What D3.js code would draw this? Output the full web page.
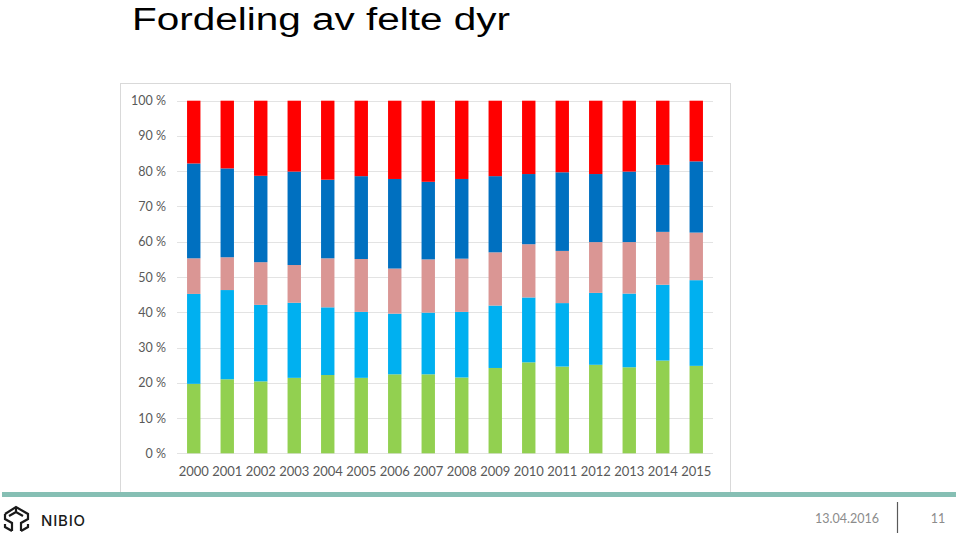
<!DOCTYPE html>
<html>
<head>
<meta charset="utf-8">
<script src="https://cdn.jsdelivr.net/npm/d3@7"></script>
<style>
  html, body { margin: 0; padding: 0; background: #fff; }
  svg { display: block; }
</style>
</head>
<body>
<svg id="chart" width="960" height="536"></svg>
<script>
const years = ["2000","2001","2002","2003","2004","2005","2006","2007","2008","2009","2010","2011","2012","2013","2014","2015"];
const seriesNames = ["s1","s2","s3","s4","s5"];
const s1 = [19.7,21.0,20.4,21.4,22.2,21.4,22.4,22.4,21.5,24.2,25.8,24.6,25.1,24.4,26.3,24.8];
const s2 = [25.5,25.3,21.7,21.3,19.2,18.7,17.2,17.5,18.6,17.7,18.4,18.0,20.4,20.9,21.5,24.3];
const s3 = [10.1,9.3,12.1,10.7,13.9,15.0,12.8,15.1,15.1,15.1,15.1,14.8,14.4,14.6,15.0,13.5];
const s4 = [26.9,25.2,24.5,26.5,22.3,23.5,25.4,22.0,22.6,21.6,19.9,22.3,19.3,20.0,19.0,20.2];
const s5 = [17.8,19.2,21.3,20.1,22.4,21.4,22.2,23.0,22.2,21.4,20.8,20.3,20.8,20.1,18.2,17.2];
const yTicks = [0,0.1,0.2,0.3,0.4,0.5,0.6,0.7,0.8,0.9,1.0];
const title = "Fordeling av felte dyr";
const footerDate = "13.04.2016";
const pageNo = "11";

const colors = ["#92D050","#00B0F0","#DA9694","#0070C0","#FF0000"];
const allSeries = [s1,s2,s3,s4,s5];

const table = years.map((y,i) => {
  const row = {year: y};
  const tot = allSeries.reduce((a,s)=>a+s[i],0);
  seriesNames.forEach((n,k)=> row[n] = allSeries[k][i]/tot);
  return row;
});

const svg = d3.select("#chart");

// Title
svg.append("text").attr("x",132).attr("y",29.5)
  .attr("font-family","'Liberation Sans', Arial, sans-serif").attr("font-size",31)
  .attr("textLength",378).attr("lengthAdjust","spacingAndGlyphs")
  .attr("fill","#000").text(title);

// Chart frame
svg.append("rect").attr("x",120.5).attr("y",83.5).attr("width",610).attr("height",410)
  .attr("fill","#fff").attr("stroke","#d9d9d9").attr("stroke-width",1);

const x = d3.scaleBand().domain(years).range([177,713]).paddingInner(0.6).paddingOuter(0.3);
const y = d3.scaleLinear().domain([0,1]).range([453.3,100.7]);

// gridlines
svg.append("g").selectAll("line").data(yTicks).join("line")
  .attr("x1",177).attr("x2",713)
  .attr("y1",d=>Math.round(y(d))+0.5).attr("y2",d=>Math.round(y(d))+0.5)
  .attr("stroke","#e3e3e3").attr("stroke-width",1);

const stack = d3.stack().keys(seriesNames)(table);
svg.append("g").selectAll("g").data(stack).join("g")
  .attr("fill",(d,i)=>colors[i])
  .selectAll("rect").data(d=>d).join("rect")
  .attr("x",d=>x(d.data.year))
  .attr("width",x.bandwidth())
  .attr("y",d=>y(d[1]))
  .attr("height",d=>y(d[0])-y(d[1]));

// Y axis
const yAxis = d3.axisLeft(y).tickValues(yTicks).tickSize(0).tickPadding(0)
  .tickFormat(d=>Math.round(d*100)+" %");
const gy = svg.append("g").attr("transform","translate(166,0)").call(yAxis);
gy.select(".domain").remove();
gy.selectAll("text").attr("font-family","Lato, 'Open Sans', sans-serif").attr("font-size",12.5).attr("fill","#595959");

// X axis
const xAxis = d3.axisBottom(x).tickSize(0).tickPadding(0);
const gx = svg.append("g").attr("transform","translate(0,467)").call(xAxis);
gx.select(".domain").remove();
gx.selectAll("text").attr("font-family","Lato, 'Open Sans', sans-serif").attr("font-size",13).attr("fill","#595959");

// Footer teal bar
svg.append("rect").attr("x",2).attr("y",492).attr("width",954).attr("height",5).attr("fill","#86BFB4");

// Logo icon
const logo = svg.append("g").attr("fill","none").attr("stroke","#1a1a1a").attr("stroke-width",2.2).attr("stroke-linejoin","miter");
logo.append("path").attr("d","M5,514 L16,507 L28,514 L28,519 L21,523 L21,531");
logo.append("path").attr("d","M5,514 L5,519 L12,523 L12,531");
logo.append("path").attr("d","M16,507 L16,512 M9,516 L16,512 L23,516");
logo.append("path").attr("d","M5,524 L5,527 L12,531 M28,524 L28,527 L21,531");

svg.append("text").attr("x",41).attr("y",525.5)
  .attr("font-family","Inter, 'DejaVu Sans', sans-serif").attr("font-size",15).attr("font-weight",500)
  .attr("letter-spacing",0.8).attr("fill","#1a1a1a").text("NIBIO");

// Footer date, divider, page number
svg.append("text").attr("x",879).attr("y",523).attr("text-anchor","end")
  .attr("font-family","Lato, 'Open Sans', sans-serif").attr("font-size",12.5).attr("fill","#8c8c8c").text(footerDate);
svg.append("line").attr("x1",897.5).attr("x2",897.5).attr("y1",502).attr("y2",533)
  .attr("stroke","#595959").attr("stroke-width",1.2);
svg.append("text").attr("x",938).attr("y",523).attr("text-anchor","middle")
  .attr("font-family","Lato, 'Open Sans', sans-serif").attr("font-size",12.5).attr("fill","#8c8c8c").text(pageNo);
</script>
</body>
</html>
